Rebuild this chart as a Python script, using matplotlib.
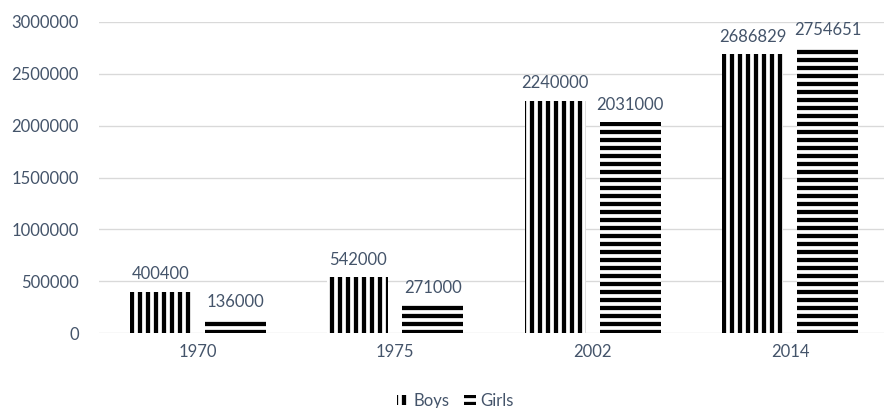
import matplotlib.pyplot as plt
import numpy as np
from matplotlib.ticker import FuncFormatter

years = ['1970', '1975', '2002', '2014']
boys = [400400, 542000, 2240000, 2686829]
girls = [136000, 271000, 2031000, 2754651]

plt.rcParams['font.family'] = ['Lato', 'DejaVu Sans']
plt.rcParams['hatch.linewidth'] = 3.2

text_col = '#44546a'
grid_col = '#d9d9d9'
fs = 12.5

fig = plt.figure(figsize=(884 / 96, 408 / 96), dpi=96)
ax = fig.add_axes([99 / 884, 0.183, 790 / 884, 0.7638])

x = np.arange(len(years))
w = 0.309
off = 0.19
# striped bars: vertical for boys, horizontal for girls
b1 = ax.bar(x - off, boys, w, color='white', edgecolor='black', linewidth=0,
            hatch='||', label='Boys')
b2 = ax.bar(x + off, girls, w, color='white', edgecolor='black', linewidth=0,
            hatch='--', label='Girls')
ax.bar_label(b1, fmt='{:.0f}', padding=7, fontsize=fs, color=text_col)
ax.bar_label(b2, fmt='{:.0f}', padding=7, fontsize=fs, color=text_col)

ax.set_xlim(-0.5, 3.5)
ax.set_ylim(0, 3000000)
ax.set_yticks(range(0, 3000001, 500000))
ax.yaxis.set_major_formatter(FuncFormatter(lambda v, p: f'{int(v)}'))
ax.set_xticks(x)
ax.set_xticklabels(years)

ax.grid(axis='y', color=grid_col, linewidth=1)
ax.set_axisbelow(True)
for s in ax.spines.values():
    s.set_visible(False)
ax.tick_params(axis='both', length=0, labelsize=fs, colors=text_col)
ax.tick_params(axis='y', pad=15)
ax.tick_params(axis='x', pad=8)

fig.legend(loc='center', bbox_to_anchor=(0.515, 0.017), ncol=2, frameon=False,
           fontsize=fs, labelcolor=text_col, handlelength=0.75, handleheight=0.5,
           handletextpad=0.25, columnspacing=0.85)

fig.savefig('out.png', dpi=96, facecolor='white')
